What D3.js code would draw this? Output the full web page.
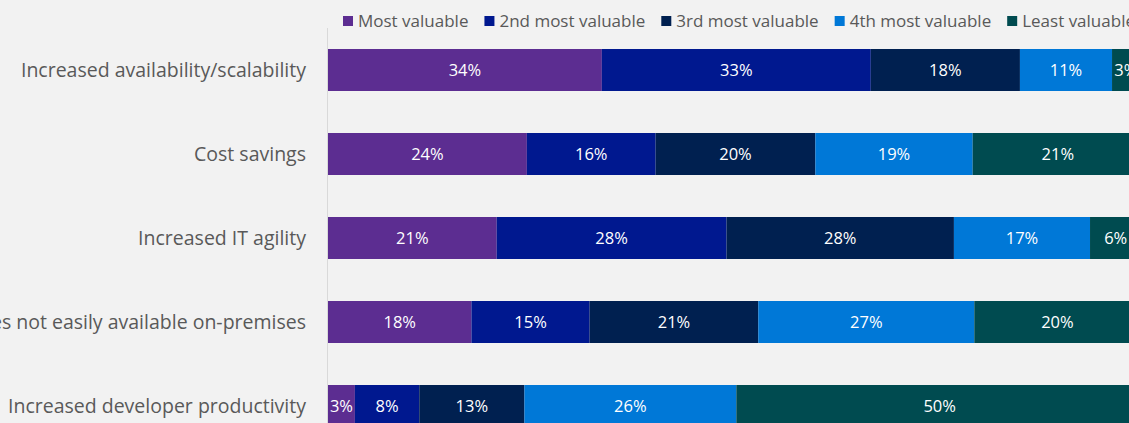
<!DOCTYPE html>
<html lang="en">
<head>
    <meta charset="UTF-8">
    <title>Value of cloud</title>
    <script src="https://cdn.jsdelivr.net/npm/d3@7"></script>
    <style>
        body{
            margin:0;
            background:#f2f2f2;
            overflow:hidden;
        }
        .cat{
            font-family: "Open Sans", sans-serif;
            font-size: 19.5px;
            fill:#595959;
        }
        .legend text{
            font-family: "Open Sans", sans-serif;
            font-size: 17px;
            fill:#595959;
        }
        .val{
            font-family: "Open Sans", sans-serif;
            font-size: 16.5px;
            fill:#ffffff;
        }
    </style>
</head>
<body>
<svg width="1129" height="423"></svg>
<script>
    const categories = [
        "Increased availability/scalability",
        "Cost savings",
        "Increased IT agility",
        "Access to capabilities not easily available on-premises",
        "Increased developer productivity"
    ];
    const seriesNames = ["Most valuable", "2nd most valuable", "3rd most valuable", "4th most valuable", "Least valuable"];
    const colors = ["#5c2d91", "#00188f", "#002050", "#0078d7", "#004b50"];

    // one array per series, in the order of the categories (percent of respondents)
    const mostValuable   = [33.6, 24.4, 20.7, 17.6, 3.3];
    const secondValuable = [33.0, 15.8, 28.2, 14.5, 7.9];
    const thirdValuable  = [18.3, 19.6, 27.9, 20.7, 12.9];
    const fourthValuable = [11.3, 19.3, 16.7, 26.5, 26.0];
    const leastValuable  = [3.4, 20.9, 6.3, 20.4, 49.9];

    const series = [mostValuable, secondValuable, thirdValuable, fourthValuable, leastValuable];

    // table for d3.stack
    const rows = categories.map((c, i) => {
        const r = {category: c};
        seriesNames.forEach((s, j) => r[s] = series[j][i]);
        return r;
    });

    const stacked = d3.stack().keys(seriesNames)(rows);

    const svg = d3.select("svg");

    const x = d3.scaleLinear().domain([0, 100]).range([328, 1143]);
    const y = d3.scaleBand().domain(categories).range([28, 448])
        .paddingInner(0.5).paddingOuter(0.25);

    // vertical axis line
    svg.append("line")
        .attr("x1", 327.5).attr("x2", 327.5)
        .attr("y1", 28).attr("y2", 423)
        .attr("stroke", "#d9d9d9");

    const layers = svg.append("g").selectAll("g")
        .data(stacked)
        .join("g")
        .attr("fill", (d, i) => colors[i]);

    layers.selectAll("rect")
        .data(d => d)
        .join("rect")
        .attr("x", d => x(d[0]))
        .attr("y", d => y(d.data.category))
        .attr("width", d => x(d[1]) - x(d[0]))
        .attr("height", y.bandwidth());

    layers.selectAll("text")
        .data(d => d)
        .join("text")
        .attr("class", "val")
        .attr("x", d => (x(d[0]) + x(d[1])) / 2)
        .attr("y", d => y(d.data.category) + y.bandwidth() / 2)
        .attr("dy", "0.35em")
        .attr("text-anchor", "middle")
        .text(d => Math.round(d[1] - d[0]) + "%");

    // category labels
    svg.append("g").selectAll("text")
        .data(categories)
        .join("text")
        .attr("class", "cat")
        .attr("x", 306)
        .attr("y", d => y(d) + y.bandwidth() / 2)
        .attr("dy", "0.35em")
        .attr("text-anchor", "end")
        .text(d => d);

    // legend, laid out left to right
    const legend = svg.append("g").attr("class", "legend");
    let lx = 343;
    seriesNames.forEach((s, i) => {
        const item = legend.append("g").attr("transform", `translate(${lx},0)`);
        item.append("rect")
            .attr("x", 0).attr("y", 16)
            .attr("width", 10).attr("height", 10)
            .attr("fill", colors[i]);
        const t = item.append("text")
            .attr("x", 15).attr("y", 21)
            .attr("dy", "0.35em")
            .text(s);
        lx += 15 + t.node().getComputedTextLength() + 16;
    });
</script>
</body>
</html>
